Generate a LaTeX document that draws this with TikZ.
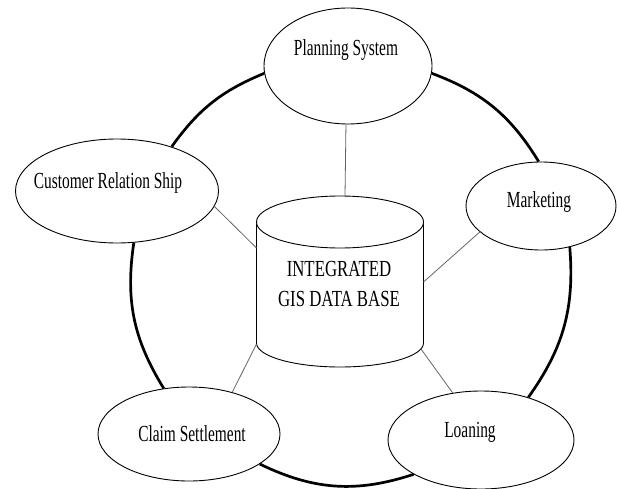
\documentclass[tikz,border=0pt]{standalone}
\usepackage{fontspec}
\setmainfont{Liberation Serif}[FakeStretch=0.67]
\newfontfamily\dbfont{Liberation Serif}[FakeStretch=0.73]
\usetikzlibrary{shapes.geometric}

\begin{document}
\begin{tikzpicture}[x=1pt, y=1pt,
		unit/.style={ellipse, draw, line width=0.9pt, inner sep=0pt, fill=white},
		unitlabel/.style={font=\fontsize{23}{27}\selectfont},
		link/.style={draw=black!60, line width=0.8pt},
		ring/.style={line width=2.7pt}]
			\useasboundingbox (0,0) rectangle (617,488);
			%   %   %   %   %   %   %   %   %   %   %
			%   Units round the data base
				\node[unit, minimum width=168pt, minimum height=116pt,
					label={[unitlabel, xshift=-2pt, yshift=16pt]center:Planning System}] (plan) at (348,422) {};
				\node[unit, minimum width=203pt, minimum height=104pt,
					label={[unitlabel, xshift=-9pt, yshift=8pt]center:Customer Relation Ship}] (crm) at (117,297) {};
				\node[unit, minimum width=150pt, minimum height=88pt,
					label={[unitlabel, xshift=-2pt, yshift=4pt]center:Marketing}] (mkt) at (541,282) {};
				\node[unit, minimum width=182pt, minimum height=94pt,
					label={[unitlabel, xshift=3pt]center:Claim Settlement}] (claim) at (189,54) {};
				\node[unit, minimum width=186pt, minimum height=98pt,
					label={[unitlabel, xshift=-11pt, yshift=8pt]center:Loaning}] (loan) at (481,48) {};
			%   %   %   %   %   %   %   %   %   %   %
			%   Data base (cylinder)
				\draw[line width=0.9pt, fill=white] (256.5,266) -- (256.5,145)
					arc[start angle=180, end angle=360, x radius=83.5pt, y radius=24pt] -- (423.5,266);
				\draw[line width=0.9pt, fill=white] (340,266) ellipse [x radius=83.5pt, y radius=26pt];
				\node[font=\dbfont\fontsize{23}{30}\selectfont, align=center] (db) at (339,204)
					{INTEGRATED\\GIS DATA BASE};
				\coordinate (dbN) at (345,292);
				\coordinate (dbW) at (256.5,240);
				\coordinate (dbE) at (423.5,206);
				\coordinate (dbSW) at (256.5,144);
				\coordinate (dbSE) at (421,139);
			%   %   %   %   %   %   %   %   %   %   %
			%   Units -> data base
				\draw[link] (plan.268) -- (dbN);
				\draw[link] (crm.-9) -- (dbW);
				\draw[link] (mkt.203) -- (dbE);
				\draw[link] (claim.44) -- (dbSW);
				\draw[link] (loan.121) -- (dbSE);
			%   %   %   %   %   %   %   %   %   %   %
			%   Ring
				\draw[ring] (plan.185) to[bend right=16] (crm.39);
				\draw[ring] (plan.-5) to[bend left=19] (mkt.93);
				\draw[ring] (crm.-72) to[bend right=20] (claim.119);
				\draw[ring] (mkt.-55) to[bend left=20] (loan.42);
				\draw[ring] (claim.-23) to[bend right=22] (loan.207);
\end{tikzpicture}
\end{document}
